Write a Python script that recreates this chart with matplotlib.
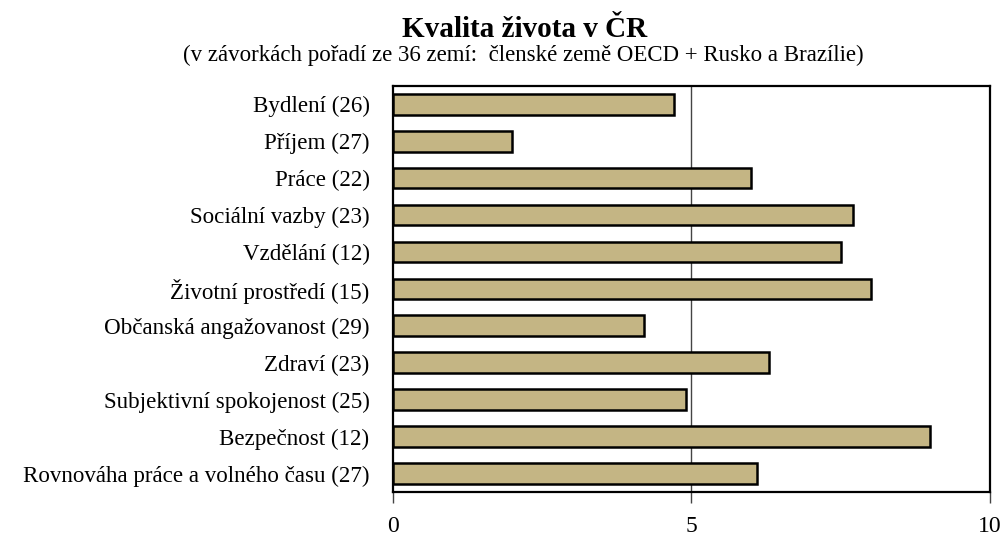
import matplotlib.pyplot as plt

plt.rcParams['font.family'] = ['Liberation Serif', 'DejaVu Serif']

# Data
categories = [
    'Bydlení (26)',
    'Příjem (27)',
    'Práce (22)',
    'Sociální vazby (23)',
    'Vzdělání (12)',
    'Životní prostředí (15)',
    'Občanská angažovanost (29)',
    'Zdraví (23)',
    'Subjektivní spokojenost (25)',
    'Bezpečnost (12)',
    'Rovnováha práce a volného času (27)',
]
values = [4.7, 2.0, 6.0, 7.7, 7.5, 8.0, 4.2, 6.3, 4.9, 9.0, 6.1]
xticks = [0, 5, 10]

fig = plt.figure(figsize=(10.08, 5.4), dpi=100)
ax = fig.add_axes([0.390, 0.089, 0.592, 0.752])

pos = list(range(len(categories)))
ax.barh(pos, values, height=0.56, color='#C4B584', edgecolor='black',
        linewidth=1.8, zorder=3)
ax.axvline(5, color='#444444', linewidth=1.0, zorder=1)

ax.set_xlim(0, 10)
ax.set_ylim(len(categories) - 0.5, -0.5)
ax.set_yticks(pos)
ax.set_yticklabels(categories, fontsize=16.6)
ax.tick_params(axis='y', length=0, pad=17)
ax.set_xticks(xticks)
ax.set_xticklabels([str(t) for t in xticks], fontsize=17)
ax.tick_params(axis='x', length=8, width=1.0, color='#444444', pad=9,
               direction='out')

for sp in ax.spines.values():
    sp.set_linewidth(1.6)
    sp.set_color('black')

fig.text(0.52, 0.945, 'Kvalita života v ČR', ha='center', va='center',
         fontsize=21, fontweight='bold')
fig.text(0.519, 0.897, '(v závorkách pořadí ze 36 zemí:  členské země OECD + Rusko a Brazílie)',
         ha='center', va='center', fontsize=16.5)

fig.savefig('out.png', dpi=100)
